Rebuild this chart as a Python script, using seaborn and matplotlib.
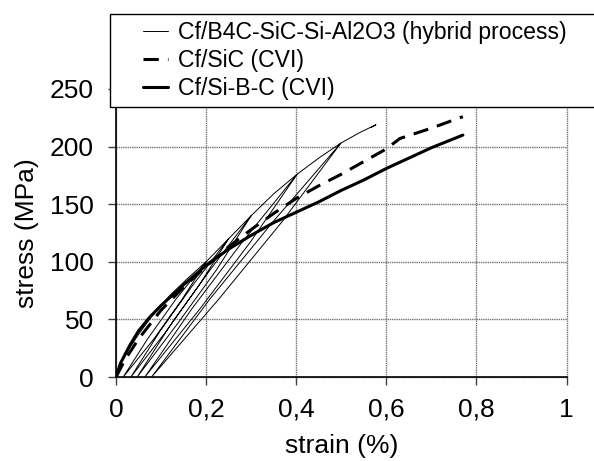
import matplotlib
matplotlib.use("Agg")
import matplotlib.pyplot as plt
from matplotlib.patches import Rectangle
import seaborn as sns

# strain (%) / stress (MPa)
sibc_strain = [0, 0.01, 0.03, 0.05, 0.075, 0.1, 0.15, 0.2, 0.25, 0.3, 0.35, 0.4,
               0.45, 0.5, 0.55, 0.6, 0.65, 0.7, 0.77]
sibc_stress = [0, 12, 27, 40, 52, 62, 80, 97, 111, 123, 134, 143,
               152, 162, 171, 181, 190, 199, 210]

sic_strain = [0, 0.02, 0.05, 0.1, 0.15, 0.2, 0.25, 0.3, 0.35, 0.4, 0.45, 0.5,
              0.55, 0.6, 0.63, 0.7, 0.77]
sic_stress = [0, 15, 33, 58, 78, 96, 113, 128, 142, 155, 166, 176,
              187, 198, 207, 216, 226]

# hybrid process: loading with unload/reload loops
hybrid_strain = [0, 0.01, 0.03, 0.05, 0.08, 0.12, 0.16, 0.20,
                 0.146, 0.084, 0.016, 0.070, 0.132, 0.20,
                 0.25, 0.185, 0.112, 0.033, 0.098, 0.171, 0.25,
                 0.30, 0.223, 0.138, 0.047, 0.124, 0.209, 0.30,
                 0.35, 0.402, 0.298, 0.186, 0.064, 0.168, 0.280, 0.402,
                 0.45, 0.499, 0.369, 0.229, 0.079, 0.209, 0.349, 0.499,
                 0.54, 0.577, 0.566]
hybrid_stress = [0, 11, 25, 37, 53, 71, 86, 100,
                 67, 33, 0, 33, 67, 100,
                 120, 80, 40, 0, 40, 80, 120,
                 140, 93, 47, 0, 47, 93, 140,
                 159, 176, 117, 59, 0, 59, 117, 176,
                 190, 203, 135, 68, 0, 68, 135, 203,
                 212, 219, 216.5]

x_ticks = [0, 0.2, 0.4, 0.6, 0.8, 1]
x_labels = ["0", "0,2", "0,4", "0,6", "0,8", "1"]
y_ticks = [0, 50, 100, 150, 200, 250]

sns.set_style("white")
plt.rcParams["font.family"] = ["Liberation Sans", "DejaVu Sans"]
plt.rcParams["text.color"] = "black"
plt.rcParams["axes.labelcolor"] = "black"

W, H = 594, 461
fig = plt.figure(figsize=(W / 100, H / 100), dpi=100)
ax = fig.add_axes([116 / W, 1 - 377 / H, (566.5 - 116) / W, (377 - 89) / H])

sns.lineplot(x=hybrid_strain, y=hybrid_stress, sort=False, estimator=None,
             color="black", lw=0.7, ax=ax)
sns.lineplot(x=sic_strain, y=sic_stress, sort=False, estimator=None,
             color="black", lw=2.2, ax=ax)
sns.lineplot(x=sibc_strain, y=sibc_stress, sort=False, estimator=None,
             color="black", lw=2.2, ax=ax)
lines = ax.get_lines()
lines[1].set_linestyle((0, (5, 3)))

ax.set_xlim(0, 1)
ax.set_ylim(0, 250)
ax.set_xticks(x_ticks)
ax.set_xticklabels(x_labels)
ax.set_yticks(y_ticks)
ax.grid(True, color="0.45", lw=1, ls=(0, (1, 0.6)))
for gl in ax.get_xgridlines() + ax.get_ygridlines():
    gl.set_clip_on(False)
for s in ["top", "right"]:
    ax.spines[s].set_visible(False)
for s in ["left", "bottom"]:
    ax.spines[s].set_color("black")
    ax.spines[s].set_linewidth(1.2)
    ax.spines[s].set_zorder(3)
ax.tick_params(axis="both", direction="out", length=6, width=1, color="0.25",
               labelsize=19, labelcolor="black")
ax.tick_params(axis="y", pad=10, left=True)
ax.tick_params(axis="x", pad=9, bottom=True)
ax.set_xlabel("strain (%)", fontsize=19, labelpad=9)
ax.set_ylabel("stress (MPa)", fontsize=19, labelpad=8)

# legend box overlapping the top of the plot
fig.add_artist(Rectangle((110 / W, 1 - 107.5 / H), (600 - 110) / W, (107.5 - 14) / H,
                         transform=fig.transFigure, facecolor="white",
                         edgecolor="black", lw=1, zorder=5))
leg = fig.legend(lines[:3],
                 ["Cf/B4C-SiC-Si-Al2O3 (hybrid process)", "Cf/SiC (CVI)", "Cf/Si-B-C (CVI)"],
                 loc="upper left", bbox_to_anchor=(143 / W, 1 - 21.5 / H),
                 bbox_transform=fig.transFigure, frameon=False, borderpad=0,
                 borderaxespad=0, handlelength=1.1, handletextpad=0.42,
                 labelspacing=0.2, fontsize=16.6)
leg.set_zorder(6)

fig.savefig("out.png", dpi=100)
